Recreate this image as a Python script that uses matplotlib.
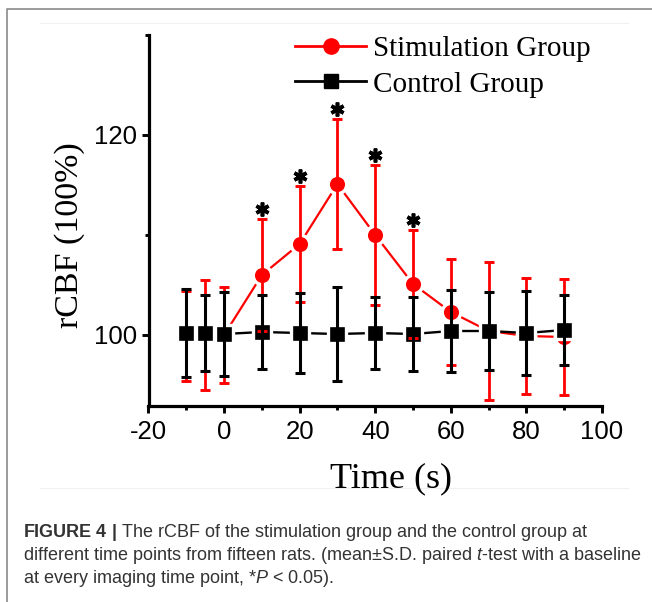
import matplotlib
matplotlib.use("Agg")
import matplotlib.pyplot as plt
from matplotlib.lines import Line2D
from matplotlib.ticker import MultipleLocator
import matplotlib.transforms as mtransforms
import numpy as np

# ---- data ----
time = [-10, -5, 0, 10, 20, 30, 40, 50, 60, 70, 80, 90]
stim_mean = [99.9, 100.0, 100.0, 106.0, 109.1, 115.1, 110.0, 105.1, 102.3, 100.4, 99.9, 99.8]
stim_sd = [4.5, 5.5, 4.8, 5.6, 5.8, 6.5, 7.0, 5.4, 5.3, 6.9, 5.8, 5.8]
ctrl_mean = [100.2, 100.2, 100.1, 100.3, 100.2, 100.1, 100.2, 100.1, 100.4, 100.4, 100.2, 100.5]
ctrl_sd = [4.4, 3.8, 4.2, 3.7, 4.0, 4.7, 3.6, 3.7, 4.1, 3.9, 4.2, 3.5]
sig_times = [10, 20, 30, 40, 50]
labels = ["Stimulation Group", "Control Group"]
xticks = [-20, 0, 20, 40, 60, 80, 100]
yticks = [100, 120]
caption_lines = [
    r"$\mathbf{FIGURE\ 4\ |}$ The rCBF of the stimulation group and the control group at",
    r"different time points from fifteen rats. (mean±S.D. paired $t$-test with a baseline",
    r"at every imaging time point, *$P$ < 0.05).",
]

plt.rcParams["axes.unicode_minus"] = False
plt.rcParams["mathtext.fontset"] = "custom"
plt.rcParams["mathtext.rm"] = "Liberation Sans"
plt.rcParams["mathtext.it"] = "Liberation Sans:italic"
plt.rcParams["mathtext.bf"] = "Liberation Sans:bold"

W, H = 652, 602
fig = plt.figure(figsize=(W / 100, H / 100), dpi=100)

def fx(px):
    return px / W

def fy(py):
    return 1 - py / H

ax = fig.add_axes([fx(148.5), fy(406), fx(602) - fx(148.5), fy(35) - fy(406)])

RED = "#ff0000"
BLK = "#000000"

# connecting lines + markers
ax.plot(time, stim_mean, color=RED, lw=1.6, zorder=1)
ax.plot(time, stim_mean, ls="none", marker="o", ms=13.3, mfc=RED, mec="white", mew=2.4, zorder=2)
ax.plot(time, ctrl_mean, color=BLK, lw=1.7, zorder=3)
ax.plot(time, ctrl_mean, ls="none", marker="s", ms=12.5, mfc=BLK, mec="white", mew=2.4, zorder=4)
# error bars
ax.errorbar(time, stim_mean, yerr=stim_sd, fmt="none", ecolor=RED, elinewidth=2.0,
            capsize=3.4, capthick=2.1, zorder=5)
ax.errorbar(time, ctrl_mean, yerr=ctrl_sd, fmt="none", ecolor=BLK, elinewidth=2.2,
            capsize=3.4, capthick=2.2, zorder=6)

# significance stars above the stimulation error bars
sig_idx = [time.index(t) for t in sig_times]
sig_y = [stim_mean[i] + stim_sd[i] for i in sig_idx]
star_tr = mtransforms.offset_copy(ax.transData, fig=fig, x=0, y=10.5, units="dots")
ax.plot(sig_times, sig_y, ls="none", marker=(6, 2, 0), ms=10, mew=2.6, color=BLK,
        transform=star_tr, zorder=7, clip_on=False)

ax.set_xlim(-20, 100)
ax.set_ylim(92.9, 130)
ax.set_xticks(xticks)
ax.set_yticks(yticks)
ax.xaxis.set_minor_locator(MultipleLocator(10))
ax.yaxis.set_minor_locator(MultipleLocator(10))
for s in ["top", "right"]:
    ax.spines[s].set_visible(False)
for s in ["left", "bottom"]:
    ax.spines[s].set_linewidth(2.3)
ax.tick_params(which="major", direction="out", length=5, width=2.1)
ax.tick_params(which="minor", direction="out", length=3.2, width=2.1)
ax.tick_params(axis="y", which="major", pad=3.5)
ax.tick_params(axis="x", which="major", pad=5.0)
for lab in ax.get_xticklabels() + ax.get_yticklabels():
    lab.set_fontfamily("Liberation Sans")
    lab.set_fontsize(18.5)

# legend
handles = [
    Line2D([], [], color=RED, lw=2.0, marker="o", ms=11, mfc=RED, mec=RED),
    Line2D([], [], color=BLK, lw=2.0, marker="s", ms=10.5, mfc=BLK, mec=BLK),
]
ax.legend(handles, labels, loc="upper left", bbox_to_anchor=(fx(295), fy(36)),
          bbox_transform=fig.transFigure, frameon=False, borderpad=0, borderaxespad=0,
          handlelength=2.45, handletextpad=0.23, labelspacing=0.3,
          prop={"family": "Liberation Serif", "size": 21})

# axis labels
fig.text(fx(70), fy(235), "rCBF (100%)", rotation=90, ha="center", va="center",
         family="Liberation Serif", size=24.5)
fig.text(fx(391.5), fy(487), "Time (s)", ha="center", va="baseline",
         family="Liberation Serif", size=26)

# faint image edges and figure frame
fig.add_artist(Line2D([fx(40), fx(628)], [fy(23), fy(23)], color="#f0f0f0", lw=0.8, zorder=0))
fig.add_artist(Line2D([fx(40), fx(628)], [fy(488), fy(488)], color="#f0f0f0", lw=0.8, zorder=0))
fig.add_artist(Line2D([fx(7), fx(7), 1.0], [0.0, fy(9), fy(9)], color="#8a8a8a", lw=1.2))

# caption
for i, (line, base) in enumerate(zip(caption_lines, [536.7, 559.7, 582.7])):
    fig.text(fx(23), fy(base), line, ha="left", va="baseline",
             family="Liberation Sans", size=13.0, color="#333333")

fig.savefig("out.png", dpi=100)
